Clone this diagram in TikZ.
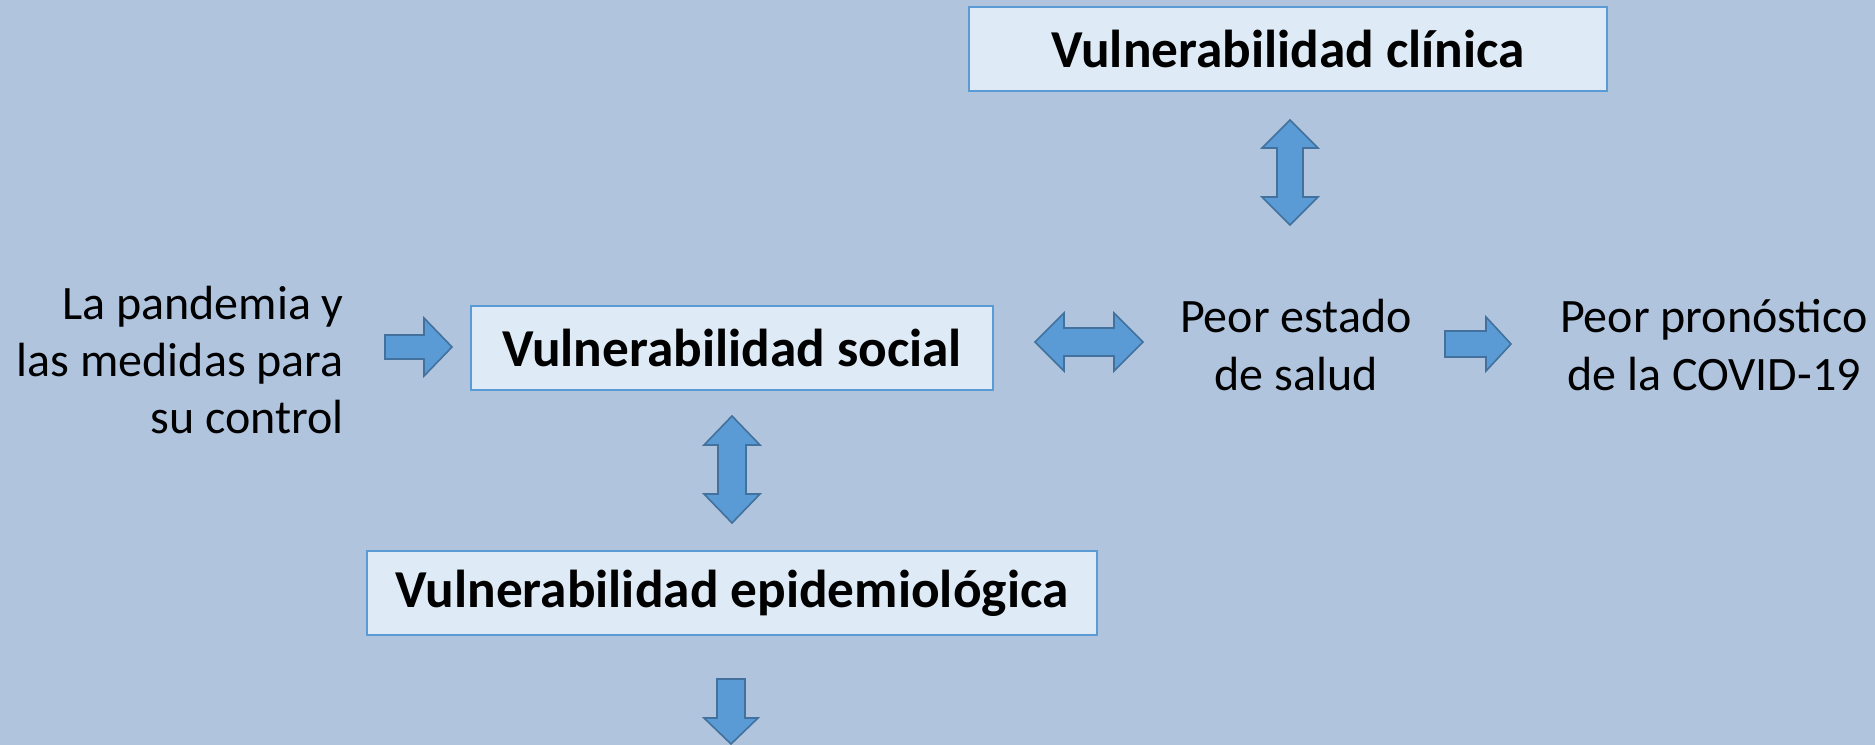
\documentclass[tikz,border=0pt]{standalone}
\usepackage{fontspec}
\setmainfont{Carlito}
\definecolor{bg}{RGB}{176,196,222}
\definecolor{boxfill}{RGB}{222,235,247}
\definecolor{boxline}{RGB}{91,155,213}
\definecolor{arrfill}{RGB}{91,155,213}
\definecolor{arrline}{RGB}{65,113,156}
\tikzset{
  vbox/.style={draw=boxline, line width=1.6pt, fill=boxfill, inner sep=0pt,
    font=\fontsize{40}{48}\selectfont\bfseries, text=black},
  plaintext/.style={inner sep=0pt, font=\fontsize{36}{43}\selectfont, text=black, align=center},
  blockarrow/.style={draw=arrline, line width=1.2pt, fill=arrfill, line join=miter},
}
\begin{document}
\begin{tikzpicture}[x=0.75pt, y=-0.75pt]
\fill[bg] (0,0) rectangle (1875,745);
\useasboundingbox (0,0) rectangle (1875,745);

% boxes
\node[vbox, minimum width=479pt, minimum height=63pt] (clin) at (1288,49) {Vulnerabilidad clínica};
\node[vbox, minimum width=391pt, minimum height=63pt] (soc) at (732,348) {Vulnerabilidad social};
\node[vbox, minimum width=547pt, minimum height=63pt] (epi) at (732,593) {Vulnerabilidad epidemiológica};

% texts
\node[plaintext, align=right, anchor=east] (pand) at (344,360) {La pandemia y\\las medidas para\\su control};
\node[plaintext] (peor) at (1296,345) {Peor estado\\de salud};
\node[plaintext] (pron) at (1714,345) {Peor pronóstico\\de la COVID-19};

% arrow: pandemia -> social
\draw[blockarrow] (385,335) -- (424,335) -- (424,318) -- (452,347) -- (424,376) -- (424,359) -- (385,359) -- cycle;
% double arrow: social <-> peor estado
\draw[blockarrow] (1035,342) -- (1064,313) -- (1064,328) -- (1114,328) -- (1114,313) -- (1143,342)
  -- (1114,371) -- (1114,356) -- (1064,356) -- (1064,371) -- cycle;
% arrow: peor estado -> pronostico
\draw[blockarrow] (1445,331) -- (1486,331) -- (1486,317) -- (1511,344) -- (1486,371) -- (1486,357) -- (1445,357) -- cycle;
% double arrow: clinica <-> peor estado
\draw[blockarrow] (1290,120) -- (1318,148) -- (1303,148) -- (1303,197) -- (1318,197) -- (1290,225)
  -- (1262,197) -- (1277,197) -- (1277,148) -- (1262,148) -- cycle;
% double arrow: social <-> epidemiologica
\draw[blockarrow] (732,416) -- (760,445) -- (746,445) -- (746,494) -- (760,494) -- (732,523)
  -- (704,494) -- (718,494) -- (718,445) -- (704,445) -- cycle;
% arrow down from epidemiologica
\draw[blockarrow] (717,679) -- (745,679) -- (745,718) -- (758,718) -- (731,744) -- (704,718) -- (717,718) -- cycle;
\end{tikzpicture}
\end{document}
